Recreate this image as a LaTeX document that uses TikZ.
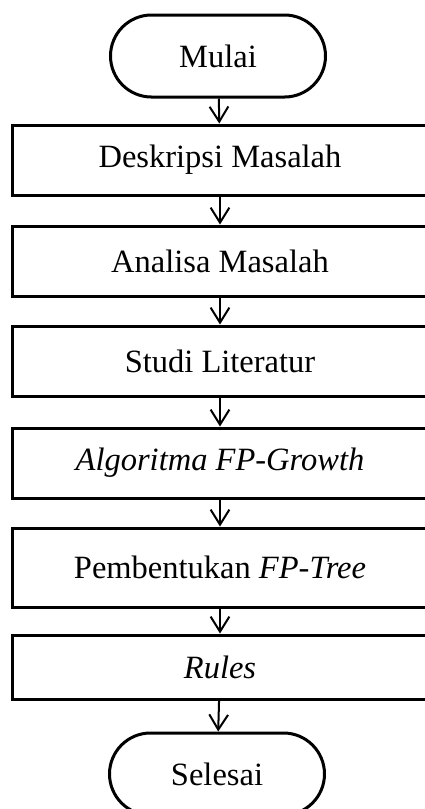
\documentclass[tikz,border=0pt]{standalone}
\usepackage{fontspec}
\setmainfont{Liberation Serif}
\usepackage{tikz}
\usetikzlibrary{arrows.meta}

\begin{document}
\begin{tikzpicture}[x=0.4pt,y=-0.4pt,
	terminal/.style={shape=rectangle,draw=black,line width=1.2pt,rounded corners=16.4pt,
		minimum width=86pt,minimum height=32.8pt,font=\fontsize{13}{15}\selectfont},
	process/.style={shape=rectangle,draw=black,line width=1.2pt,
		minimum width=165.6pt,font=\fontsize{13}{15}\selectfont},
	flow/.style={-{Straight Barb[length=6pt,width=7.5pt]},line width=0.8pt}]
	
	\useasboundingbox (0,0) rectangle (425,809);
	
	\node[terminal] (mulai) at (218, 56)     {Mulai};
	\node[process,minimum height=28pt] (deskripsi) at (220, 160)     {Deskripsi Masalah};
	\node[process,minimum height=28pt] (analisa) at (220, 261)     {Analisa Masalah};
	\node[process,minimum height=28pt] (studi) at (220, 361)     {Studi Literatur};
	\node[process,minimum height=28pt] (algoritma) at (220, 463)     {\textit{Algoritma FP-Growth}};
	\node[process,minimum height=31.6pt] (pembentukan) at (220, 567.5)     {Pembentukan \textit{FP-Tree}};
	\node[process,minimum height=25.6pt] (rules) at (220, 667)     {\textit{Rules}};
	\node[terminal] (selesai) at (217, 774)     {Selesai};
	
	\path[flow] (mulai) edge (deskripsi);
	\path[flow] (deskripsi) edge (analisa);
	\path[flow] (analisa) edge (studi);
	\path[flow] (studi) edge (algoritma);
	\path[flow] (algoritma) edge (pembentukan);
	\path[flow] (pembentukan) edge (rules);
	\path[flow] (rules) edge (selesai);
\end{tikzpicture}
\end{document}
